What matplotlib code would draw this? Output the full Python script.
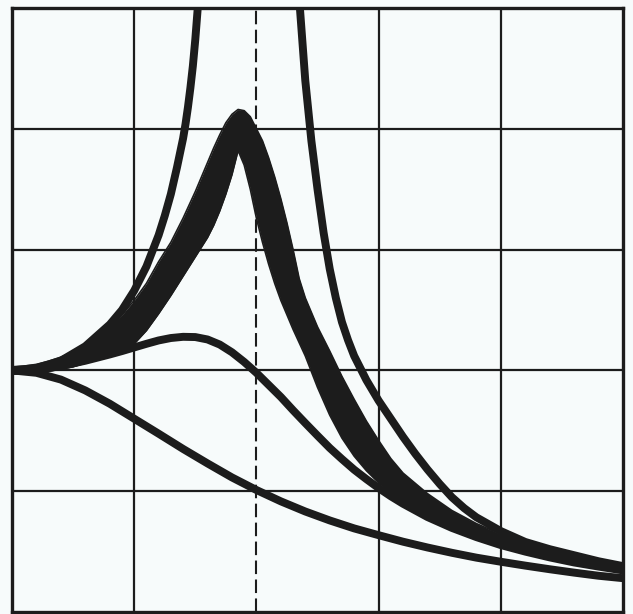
import matplotlib
matplotlib.use("Agg")
import matplotlib.pyplot as plt

# ---- data (x = frequency ratio, y = amplitude ratio) ----
x_ticks = [0.0, 0.5, 1.0, 1.5, 2.0, 2.5]
y_ticks = [0.0, 0.5, 1.0, 1.5, 2.0, 2.5]
resonance_x = 1.0

# undamped curve, left branch (leaves the top of the chart)
zeta0_left_x = [0.0, 0.1, 0.2, 0.3, 0.4, 0.45, 0.5, 0.55, 0.6, 0.625, 0.65, 0.675, 0.7, 0.71, 0.72,
                0.73, 0.74, 0.75, 0.76, 0.77]
zeta0_left_y = [1.0, 1.01, 1.04, 1.10, 1.19, 1.25, 1.33, 1.43, 1.56, 1.64, 1.73, 1.84, 1.96, 2.02, 2.09,
                2.17, 2.26, 2.37, 2.5, 2.64]

# undamped curve, right branch
zeta0_right_x = [1.165, 1.178, 1.2, 1.225, 1.25, 1.275, 1.3, 1.325, 1.35, 1.375, 1.4, 1.45, 1.5, 1.55,
                 1.6, 1.65, 1.7, 1.75, 1.8, 1.85, 1.9, 2.0, 2.1, 2.2, 2.3, 2.4, 2.5]
zeta0_right_y = [2.7, 2.5, 2.2, 1.95, 1.75, 1.57, 1.42, 1.30, 1.20, 1.125, 1.06, 0.96, 0.875, 0.80,
                 0.725, 0.655, 0.59, 0.53, 0.475, 0.43, 0.392, 0.335, 0.29, 0.26, 0.235, 0.21, 0.19]

# heavy band (outer and inner edges)
band_x = [0.0, 0.05, 0.1, 0.15, 0.2, 0.25, 0.3, 0.35, 0.4, 0.45, 0.5, 0.55, 0.6, 0.65, 0.7, 0.75, 0.8,
          0.825, 0.85, 0.875, 0.9, 0.925, 0.95, 0.975, 1.0, 1.025, 1.05, 1.075, 1.1, 1.125, 1.15, 1.175, 1.2,
          1.25, 1.3, 1.35, 1.4, 1.45, 1.5, 1.55, 1.6,
          1.7, 1.8, 1.9, 2.0, 2.1, 2.2, 2.3, 2.4, 2.5]
band_upper = [1.015, 1.018, 1.025, 1.038, 1.055, 1.078, 1.105, 1.14, 1.18, 1.23, 1.29, 1.36, 1.45, 1.53, 1.63, 1.74, 1.86,
              1.92, 1.975, 2.025, 2.06, 2.08, 2.075, 2.05, 2.0, 1.95, 1.88, 1.80, 1.71, 1.61, 1.50, 1.38, 1.30,
              1.18, 1.08, 0.975, 0.88, 0.79, 0.71, 0.635, 0.575,
              0.49, 0.42, 0.366, 0.322, 0.286, 0.256, 0.231, 0.21, 0.192]
band_lower = [0.985, 0.986, 0.99, 0.996, 1.005, 1.015, 1.03, 1.045, 1.06, 1.08, 1.11, 1.165, 1.235, 1.31, 1.39, 1.47, 1.55,
              1.60, 1.66, 1.73, 1.81, 1.91, 1.85, 1.75, 1.63, 1.53, 1.44, 1.36, 1.29, 1.23, 1.17, 1.115, 1.06,
              0.93, 0.815, 0.72, 0.645, 0.585, 0.535, 0.495, 0.46,
              0.40, 0.35, 0.31, 0.278, 0.25, 0.226, 0.206, 0.19, 0.175]

# moderately damped curve
zeta05_x = [0.0, 0.1, 0.2, 0.3, 0.4, 0.45, 0.5, 0.55, 0.6, 0.65, 0.7, 0.75, 0.8, 0.85, 0.9, 0.95, 1.0,
            1.05, 1.1, 1.15, 1.2, 1.25, 1.3, 1.35, 1.4, 1.45, 1.5, 1.55, 1.6,
            1.7, 1.8, 1.9, 2.0, 2.1, 2.2, 2.3, 2.4, 2.5]
zeta05_y = [1.0, 1.004, 1.018, 1.04, 1.066, 1.08, 1.095, 1.11, 1.124, 1.134, 1.139, 1.138, 1.128, 1.107,
            1.075, 1.035, 0.99, 0.94, 0.89, 0.835, 0.782, 0.73, 0.679, 0.633, 0.589, 0.55, 0.513, 0.479,
            0.448, 0.393, 0.348, 0.310, 0.277, 0.250, 0.226, 0.205, 0.188, 0.172]

# heavily damped curve
zeta1_x = [0.0, 0.1, 0.2, 0.3, 0.4, 0.5, 0.6, 0.7, 0.8, 0.9, 1.0, 1.1, 1.2, 1.3, 1.4, 1.5,
           1.6, 1.7, 1.8, 1.9, 2.0, 2.1, 2.2, 2.3, 2.4, 2.5]
zeta1_y = [1.0, 0.99, 0.962, 0.917, 0.862, 0.80, 0.738, 0.675, 0.615, 0.557, 0.505, 0.458, 0.416, 0.379,
           0.346, 0.318, 0.291, 0.267, 0.245, 0.225, 0.208, 0.192, 0.177, 0.163, 0.150, 0.140]

# ---- figure ----
ink = "#1c1c1c"
paper = "#f7fbfb"

fig = plt.figure(figsize=(6.33, 6.14), dpi=100, facecolor=paper)
ax = fig.add_axes([12 / 633, 2 / 614, 611 / 633, 604 / 614])
ax.set_facecolor(paper)

ax.set_xlim(x_ticks[0], x_ticks[-1])
ax.set_ylim(y_ticks[0], y_ticks[-1])
ax.set_xticks(x_ticks)
ax.set_yticks(y_ticks)
ax.tick_params(length=0, labelbottom=False, labelleft=False)

for xv in x_ticks[1:-1]:
    if xv == resonance_x:
        continue
    ax.axvline(xv, color=ink, lw=1.6, zorder=1)
for yv in y_ticks[1:-1]:
    ax.axhline(yv, color=ink, lw=1.6, zorder=1)

ax.axvline(resonance_x, color=ink, lw=1.5, dashes=(6.5, 2.6), zorder=1)

for sp in ax.spines.values():
    sp.set_color(ink)
    sp.set_linewidth(2.4)

lw = 5.7
ax.fill_between(band_x, band_lower, band_upper, color=ink, lw=0, zorder=3)
ax.plot(band_x, band_upper, color=ink, lw=1.2, zorder=3, solid_joinstyle="round")
ax.plot(band_x, band_lower, color=ink, lw=1.2, zorder=3, solid_joinstyle="round")
ax.plot(zeta0_left_x, zeta0_left_y, color=ink, lw=lw, zorder=3, solid_capstyle="butt", solid_joinstyle="round")
ax.plot(zeta0_right_x, zeta0_right_y, color=ink, lw=lw, zorder=3, solid_capstyle="butt", solid_joinstyle="round")
ax.plot(zeta05_x, zeta05_y, color=ink, lw=lw, zorder=3, solid_joinstyle="round")
ax.plot(zeta1_x, zeta1_y, color=ink, lw=lw, zorder=3, solid_joinstyle="round")

fig.savefig("out.png", dpi=100, facecolor=paper)
